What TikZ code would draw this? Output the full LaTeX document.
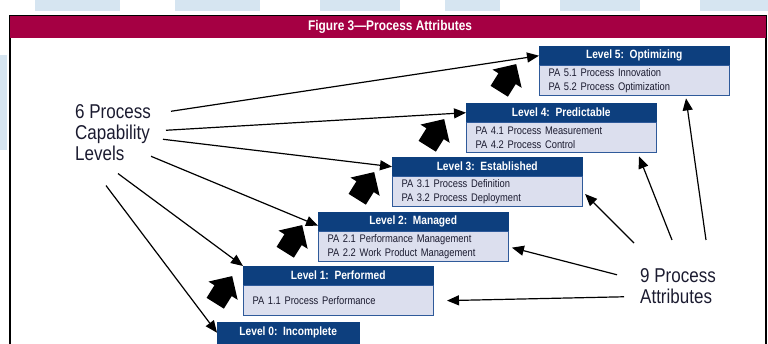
\documentclass[tikz,border=0pt]{standalone}
\usepackage{fontspec}
\setmainfont[FakeStretch=0.85]{Liberation Sans}
\usetikzlibrary{arrows.meta,shapes.arrows}

\definecolor{hdrred}{HTML}{A50043}
\definecolor{lvblue}{HTML}{0D3F7E}
\definecolor{lvfill}{HTML}{DCDFEE}
\definecolor{lvedge}{HTML}{2F5A9A}
\definecolor{wmblue}{HTML}{D6E5F1}
\definecolor{patext}{HTML}{1B1B30}

\tikzset{
  lvtitle/.style={draw=lvblue, fill=lvblue, text=white, anchor=north west,
    font=\bfseries\fontsize{12}{14}\selectfont, minimum width=190pt,
    minimum height=19pt, inner sep=0pt},
  lvbody/.style={draw=lvedge, fill=lvfill, line width=1pt, text=patext,
    anchor=north west, font=\fontsize{11}{13.5}\selectfont,
    text width=172pt, inner xsep=9pt, inner ysep=2pt, minimum height=30pt,
    align=left},
  biglabel/.style={anchor=north west, align=left, inner sep=0pt,
    text=patext, font=\fontsize{20}{21}\selectfont},
  thinarrow/.style={-{Triangle[length=12pt,width=10pt]}, line width=1.2pt},
  bigarrow/.style={single arrow, fill=black, rotate=58, inner xsep=0pt,
    inner ysep=10pt, minimum height=32pt, single arrow head extend=7pt}
}

\begin{document}
\begin{tikzpicture}[x=1pt,y=-1pt]
  \useasboundingbox (0,0) rectangle (768,344);

  % Watermark
  \foreach \a/\b in {35/120, 175/260, 320/400, 445/500, 560/640, 700/768}
    \fill[wmblue] (\a,0) rectangle (\b,11);
  \fill[wmblue] (0,55) rectangle (7,150);

  % Frame and header
  \draw[line width=1.2pt] (10,16) rectangle (766,360);
  \fill[hdrred] (10,16) rectangle (766,38);
  \node[text=white, font=\bfseries\fontsize{14}{16}\selectfont] (hdr) at (390,27)
    {Figure 3—Process Attributes};

  % Levels
  \node[lvtitle] (l5t) at (539,46) {Level 5:\ \ Optimizing};
  \node[lvbody] (l5b) at (l5t.south west)
    {PA 5.1 Process Innovation\\PA 5.2 Process Optimization};

  \node[lvtitle] (l4t) at (466,103) {Level 4:\ \ Predictable};
  \node[lvbody] (l4b) at (l4t.south west)
    {PA 4.1 Process Measurement\\PA 4.2 Process Control};

  \node[lvtitle] (l3t) at (392,157) {Level 3:\ \ Established};
  \node[lvbody] (l3b) at (l3t.south west)
    {PA 3.1 Process Definition\\PA 3.2 Process Deployment};

  \node[lvtitle] (l2t) at (318,212) {Level 2:\ \ Managed};
  \node[lvbody] (l2b) at (l2t.south west)
    {PA 2.1 Performance Management\\PA 2.2 Work Product Management};

  \node[lvtitle] (l1t) at (243,266) {Level 1:\ \ Performed};
  \node[lvbody] (l1b) at (l1t.south west) {PA 1.1 Process Performance};

  \node[lvtitle, minimum width=142pt, minimum height=21pt] (l0t) at (217,322)
    {Level 0:\ \ Incomplete};

  % Big step arrows
  \foreach \i/\x/\y in {1/221/294, 2/291/243, 3/363/190, 4/433/137, 5/505/82}
    \node[bigarrow] (ba\i) at (\x,\y) {};

  % Labels
  \node[biglabel] (caplev) at (75,104) {6 Process\\Capability\\Levels};
  \node[biglabel] (patt) at (640,268) {9 Process\\Attributes};

  % Capability level arrows
  \draw[thinarrow] ([shift={(20,-21)}]caplev.east) -- (l5t.west);
  \draw[thinarrow] ([shift={(15,-2)}]caplev.east) -- (l4t.west);
  \draw[thinarrow] ([shift={(12,7)}]caplev.east) -- (l3t.west);
  \draw[thinarrow] ([shift={(0,24)}]caplev.east) -- ([yshift=-4]l2t.west);
  \draw[thinarrow] ([shift={(5,13)}]caplev.south) -- (l1t.north west);
  \draw[thinarrow] ([shift={(-7,25)}]caplev.south) -- (l0t.west);

  % Process attribute arrows
  \draw[thinarrow, shorten >=13pt] ([shift={(-16,11)}]patt.west) -- (l1b.east);
  \draw[thinarrow, shorten >=3pt] ([shift={(-23,-11)}]patt.west) -- (l2b.east);
  \draw[thinarrow, shorten >=3pt] ([shift={(-6,-25)}]patt.north west) -- (l3b.east);
  \draw[thinarrow] ([shift={(-6,-28)}]patt.north) -- ([shift={(-18,3)}]l4b.south east);
  \draw[thinarrow] ([shift={(28,-28)}]patt.north) -- ([shift={(-44,2)}]l5b.south east);
\end{tikzpicture}
\end{document}
